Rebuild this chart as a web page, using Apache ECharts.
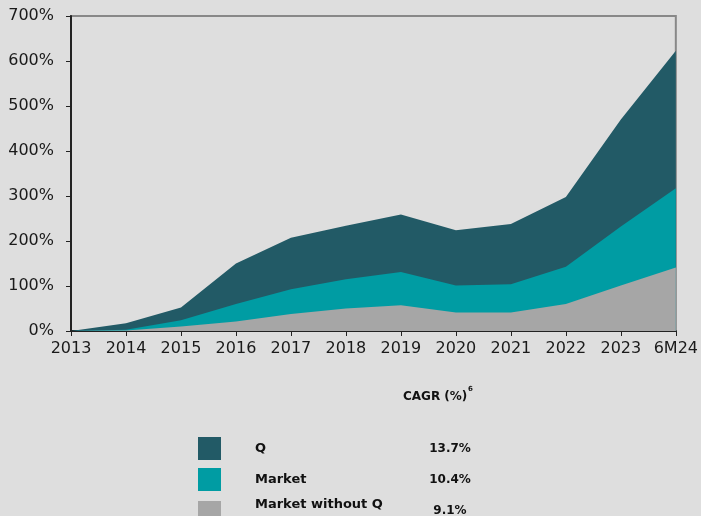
<!DOCTYPE html>
<html>
<head>
<meta charset="utf-8">
<script src="https://cdn.jsdelivr.net/npm/echarts@6/dist/echarts.min.js"></script>
<style>
  html, body { margin: 0; padding: 0; background: #dedede; }
  #chart { width: 701px; height: 516px; }
</style>
</head>
<body>
<div id="chart"></div>
<script>
var chartDom = document.getElementById('chart');
var myChart = echarts.init(chartDom);
var option;

var years = ['2013', '2014', '2015', '2016', '2017', '2018', '2019', '2020', '2021', '2022', '2023', '6M24'];
var qData = [0, 17, 52, 150, 207, 234, 259, 224, 238, 298, 470, 623];
var marketData = [0, 3, 24, 60, 93, 115, 131, 101, 104, 143, 232, 317];
var marketExQData = [0, 1, 10, 21, 38, 50, 57, 41, 41, 60, 101, 141];
var seriesNames = ['Q', 'Market', 'Market without Q'];
var cagr = ['13.7%', '10.4%', '9.1%'];
var colors = ['#225a66', '#009ca3', '#a6a6a6'];

var font = 'DejaVu Sans';
var legendTops = [437, 468, 498];

// one legend per row so the three rows never wrap into columns
var legends = seriesNames.map(function (name, i) {
  var last = i === 2;
  return {
    orient: 'vertical',
    left: 198,
    top: legendTops[i],
    padding: 0,
    itemWidth: 23,
    itemHeight: 23,
    icon: 'rect',
    selectedMode: false,
    data: [name],
    formatter: function (n) {
      var k = seriesNames.indexOf(n);
      return '{n|' + n + '}{v|' + cagr[k] + '}';
    },
    textStyle: {
      rich: {
        n: {
          fontFamily: font,
          fontWeight: 'bold',
          fontSize: 13,
          color: '#111',
          width: 175,
          padding: [0, 0, last ? 16 : 0, 29]
        },
        v: {
          fontFamily: font,
          fontWeight: 'bold',
          fontSize: 12,
          color: '#111',
          align: 'center',
          width: 40,
          padding: [0, 0, last ? 3 : 0, 0]
        }
      }
    }
  };
});

option = {
  backgroundColor: '#dedede',
  animation: false,
  grid: {
    left: 71,
    right: 25,
    top: 16,
    bottom: 185,
    show: true,
    borderColor: '#888888',
    borderWidth: 2,
    backgroundColor: 'transparent'
  },
  legend: legends,
  graphic: [
    {
      type: 'text',
      left: 403,
      top: 391,
      style: {
        text: 'CAGR (%)',
        font: 'bold 12px "DejaVu Sans"',
        fill: '#111'
      }
    },
    {
      type: 'text',
      left: 468,
      top: 386,
      style: {
        text: '6',
        font: 'bold 7px "DejaVu Sans"',
        fill: '#111'
      }
    }
  ],
  xAxis: {
    type: 'category',
    data: years,
    boundaryGap: false,
    axisLine: { lineStyle: { color: '#222', width: 2 } },
    axisTick: { show: true, length: 5, interval: 0, lineStyle: { color: '#222' } },
    axisLabel: {
      interval: 0,
      fontFamily: font,
      fontSize: 16,
      color: '#1a1a1a',
      margin: 10
    }
  },
  yAxis: {
    type: 'value',
    min: 0,
    max: 700,
    interval: 100,
    axisLine: { show: true, lineStyle: { color: '#222', width: 2 } },
    axisTick: { show: true, length: 5, lineStyle: { color: '#222' } },
    splitLine: { show: false },
    axisLabel: {
      formatter: '{value}%',
      fontFamily: font,
      fontSize: 16,
      color: '#1a1a1a',
      margin: 17
    }
  },
  series: [
    {
      name: 'Q',
      type: 'line',
      data: qData,
      symbol: 'none',
      lineStyle: { width: 0 },
      itemStyle: { color: colors[0] },
      areaStyle: { color: colors[0], opacity: 1 }
    },
    {
      name: 'Market',
      type: 'line',
      data: marketData,
      symbol: 'none',
      lineStyle: { width: 0 },
      itemStyle: { color: colors[1] },
      areaStyle: { color: colors[1], opacity: 1 }
    },
    {
      name: 'Market without Q',
      type: 'line',
      data: marketExQData,
      symbol: 'none',
      lineStyle: { width: 0 },
      itemStyle: { color: colors[2] },
      areaStyle: { color: colors[2], opacity: 1 }
    }
  ]
};

option && myChart.setOption(option);
</script>
</body>
</html>
